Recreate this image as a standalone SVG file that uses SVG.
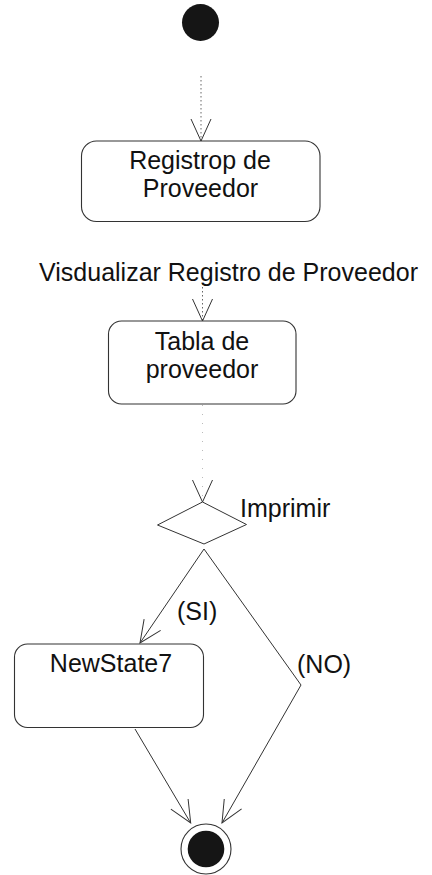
<svg xmlns="http://www.w3.org/2000/svg" width="432" height="875" viewBox="0 0 432 875">
<style>
.box{fill:#fff;stroke:#333;stroke-width:1.1}
.t{font-family:"Liberation Sans",Arial,sans-serif;font-size:25px;fill:#111}
.m{text-anchor:middle}
.c{fill:none;stroke:#333;stroke-width:1}
.d{fill:none;stroke:#666;stroke-width:1;stroke-dasharray:1.5,2.5}
</style>
<defs>
<marker id="arr" markerUnits="userSpaceOnUse" markerWidth="30" markerHeight="30" viewBox="-26 -13 30 26" refX="0" refY="0" orient="auto">
<path d="M-22,-10 L0,0 L-22,10" fill="none" stroke="#333" stroke-width="1"/>
</marker>
</defs>
<g id="connectors">
<path class="d" d="M201,76 V141" marker-end="url(#arr)"/>
<path class="d" d="M202.5,283 V321" marker-end="url(#arr)"/>
<path class="d" d="M202.5,405 V502" marker-end="url(#arr)" style="stroke:#bbb;stroke-dasharray:1,8"/>
<path class="c" d="M204,549 L140,643" marker-end="url(#arr)"/>
<path class="c" d="M204,549 L301,685 L222,823" marker-end="url(#arr)"/>
<path class="c" d="M135,729 L190.7,823" marker-end="url(#arr)"/>
</g>
<g id="start">
<circle cx="200.5" cy="22.5" r="18.5" fill="#151515"/>
</g>
<g id="registro">
<rect class="box" x="81.5" y="141" width="238.5" height="80.5" rx="15"/>
<text class="t m" x="200" y="169">Registrop de</text>
<text class="t m" x="200.5" y="197">Proveedor</text>
</g>
<g id="label-visualizar">
<text class="t m" x="228.5" y="281">Visdualizar Registro de Proveedor</text>
</g>
<g id="tabla">
<rect class="box" x="108.5" y="321" width="187.5" height="83" rx="13"/>
<text class="t m" x="202" y="350">Tabla de</text>
<text class="t m" x="202" y="378">proveedor</text>
</g>
<g id="decision">
<polygon points="202.5,502 246.5,524.5 204,544 157.5,525" fill="#fff" stroke="#333" stroke-width="1"/>
<text class="t" x="240" y="517">Imprimir</text>
</g>
<g id="labels">
<text class="t" x="177" y="620">(SI)</text>
<text class="t" x="297" y="673">(NO)</text>
</g>
<g id="newstate7">
<rect class="box" x="14.5" y="644" width="189" height="83.5" rx="13"/>
<text class="t m" x="111" y="672">NewState7</text>
</g>
<g id="final">
<circle cx="206" cy="849" r="25" fill="#fff" stroke="#333" stroke-width="1.1"/>
<circle cx="206" cy="849" r="18.3" fill="#151515"/>
</g>
</svg>
